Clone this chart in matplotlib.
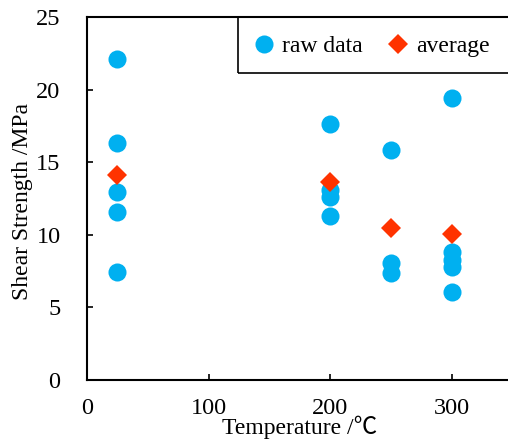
import matplotlib
matplotlib.use("Agg")
import matplotlib.pyplot as plt
from matplotlib.patches import Rectangle

plt.rcParams['font.family'] = ['Liberation Serif', 'Noto Sans CJK SC', 'DejaVu Sans']

# Data
raw_x = [25, 25, 25, 25, 25, 200, 200, 200, 200, 250, 250, 250, 300, 300, 300, 300, 300]
raw_y = [22.1, 16.35, 12.95, 11.55, 7.45, 17.65, 13.1, 12.6, 11.3, 15.85, 8.05, 7.4, 19.45, 8.8, 8.25, 7.75, 6.05]
avg_x = [25, 200, 250, 300]
avg_y = [14.1, 13.65, 10.45, 10.05]
x_ticks = [0, 100, 200, 300]
y_ticks = [0, 5, 10, 15, 20, 25]

blue = '#00B0F0'
red = '#FF3300'

W, H = 508, 441
fig = plt.figure(figsize=(W / 100, H / 100), dpi=100)
ax = fig.add_axes([87/W, 61/H, 1 - 87/W, 363/H])

ax.plot(raw_x, raw_y, 'o', color=blue, markersize=13, markeredgewidth=0, label='raw data', zorder=3)
ax.plot(avg_x, avg_y, 'D', color=red, markersize=10.2, markeredgewidth=0, label='average', zorder=4)

ax.set_xlim(0, 346.5)
ax.set_ylim(0, 25)
ax.set_xticks(x_ticks)
ax.set_yticks(y_ticks)
ax.tick_params(direction='in', length=4.3, width=1.2, labelsize=17.5, colors='black')
ax.tick_params(axis='x', pad=13)
ax.tick_params(axis='y', pad=19)

for s in ['left', 'bottom', 'top']:
    ax.spines[s].set_linewidth(1.5)
ax.spines['right'].set_visible(False)

ax.set_xlabel('Temperature /℃', fontsize=17)
ax.set_ylabel('Shear Strength /MPa', fontsize=17)
ax.xaxis.set_label_coords(0.506, -0.097)
ax.yaxis.set_label_coords(-0.128, 0.492)

# Legend (frame drawn separately, running off the right edge)
lx = (233 - 87) / 421
leg = ax.legend(loc='upper left', bbox_to_anchor=(lx, 1.0), ncol=2, frameon=False,
                fontsize=17, borderaxespad=0,
                handletextpad=0.27, columnspacing=1.0, handlelength=1.0,
                borderpad=0.8)
frame = Rectangle((238 / W, (H - 73) / H), (530 - 238) / W, 56 / H,
                  transform=fig.transFigure, fill=False, edgecolor='black',
                  linewidth=1.2, zorder=5)
fig.add_artist(frame)

fig.savefig('out.png', dpi=100)
